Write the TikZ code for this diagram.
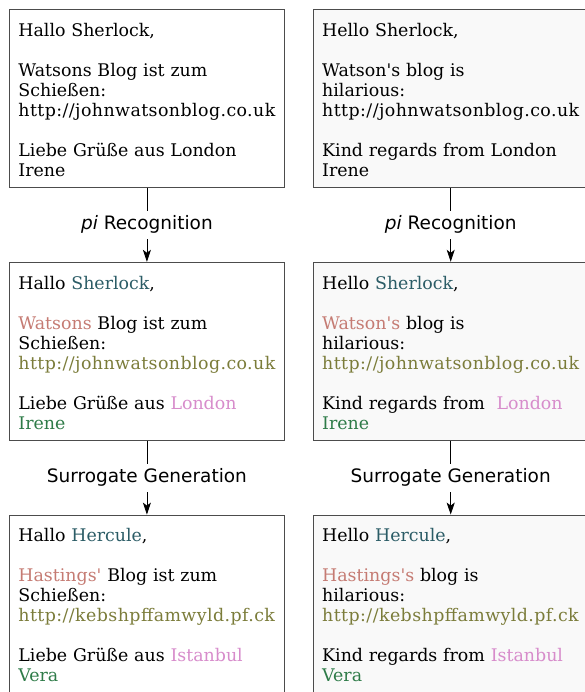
\documentclass[tikz,border=0pt]{standalone}
\usepackage{fontspec}
\setmainfont{DejaVu Serif}
\newfontfamily\labelfont{DejaVu Sans}
\usepackage{tikz}
\usetikzlibrary{arrows.meta, positioning}

\definecolor{namecol}{HTML}{2B5C66}
\definecolor{friendcol}{HTML}{C57B73}
\definecolor{urlcol}{HTML}{7B7C3A}
\definecolor{citycol}{HTML}{D78CCB}
\definecolor{signcol}{HTML}{2E7B48}
\definecolor{enfill}{HTML}{F9F9F9}

\newcommand{\link}[1]{{\addfontfeature{LetterSpace=2.4}#1}}
\newcommand{\apo}{\textquotesingle}
\newcommand{\topstrut}{\rule{0pt}{16pt}}

\tikzset{
    mailbox/.style={draw=black!70, line width=0.8pt, text width=257pt, inner sep=9pt,
        minimum height=178pt, align=left, font=\fontsize{17.4}{20}\selectfont},
    steplabel/.style={fill=white, inner sep=5pt, font=\labelfont\fontsize{18.5}{20}\selectfont},
}

\begin{document}
\begin{tikzpicture}[x=1pt, y=1pt, node distance=74pt and 28pt]
    \useasboundingbox (0,0) rectangle (584,-692);

    % german column
    \node[mailbox, anchor=north west] (de1) at (9,-9) {\topstrut Hallo Sherlock,\\[20pt]Watsons Blog ist zum\\Schießen:\\\link{http://johnwatsonblog.co.uk}\\[20pt]Liebe Grüße aus London\\Irene};
    \node[mailbox, below=of de1] (de2) {\topstrut Hallo \textcolor{namecol}{Sherlock},\\[20pt]\textcolor{friendcol}{Watsons} Blog ist zum\\Schießen:\\\textcolor{urlcol}{\link{http://johnwatsonblog.co.uk}}\\[20pt]Liebe Grüße aus \textcolor{citycol}{London}\\\textcolor{signcol}{Irene}};
    \node[mailbox, below=of de2] (de3) {\topstrut Hallo \textcolor{namecol}{Hercule},\\[20pt]\textcolor{friendcol}{Hastings\apo} Blog ist zum\\Schießen:\\\textcolor{urlcol}{\link{http://kebshpffamwyld.pf.ck}}\\[20pt]Liebe Grüße aus \textcolor{citycol}{Istanbul}\\\textcolor{signcol}{Vera}};

    % english column
    \node[mailbox, fill=enfill, right=of de1] (en1) {\topstrut Hello Sherlock,\\[20pt]Watson\apo s blog is\\hilarious:\\\link{http://johnwatsonblog.co.uk}\\[20pt]Kind regards from London\\Irene};
    \node[mailbox, fill=enfill, below=of en1] (en2) {\topstrut Hello \textcolor{namecol}{Sherlock},\\[20pt]\textcolor{friendcol}{Watson\apo s} blog is\\hilarious:\\\textcolor{urlcol}{\link{http://johnwatsonblog.co.uk}}\\[20pt]Kind regards from\ \ \textcolor{citycol}{London}\\\textcolor{signcol}{Irene}};
    \node[mailbox, fill=enfill, below=of en2] (en3) {\topstrut Hello \textcolor{namecol}{Hercule},\\[20pt]\textcolor{friendcol}{Hastings\apo s} blog is\\hilarious:\\\textcolor{urlcol}{\link{http://kebshpffamwyld.pf.ck}}\\[20pt]Kind regards from \textcolor{citycol}{Istanbul}\\\textcolor{signcol}{Vera}};

    \path[-{Stealth[length=12pt, width=8pt, inset=3pt]}, line width=0.8pt]
    (de1) edge node[steplabel] {\textit{pi} Recognition} (de2)
    (de2) edge node[steplabel] {Surrogate Generation} (de3)
    (en1) edge node[steplabel] {\textit{pi} Recognition} (en2)
    (en2) edge node[steplabel] {Surrogate Generation} (en3);
\end{tikzpicture}
\end{document}
